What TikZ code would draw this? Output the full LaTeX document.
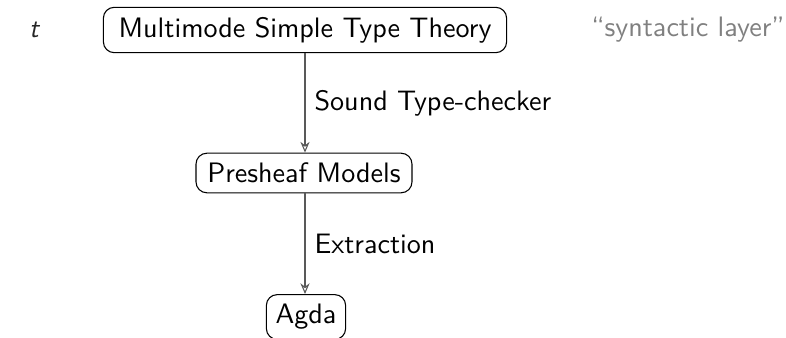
\documentclass[tikz,border=0pt]{standalone}
\usetikzlibrary{arrows.meta}
\renewcommand{\familydefault}{\sfdefault}
\begin{document}
\begin{tikzpicture}[x=0.37pt,y=-0.37pt,
  txt/.style={font=\fontsize{10.4}{12.5}\selectfont},
  layerbox/.style={txt, draw, rounded corners=4pt, inner ysep=3.6pt},
  flow/.style={draw=black!65, -{Stealth[open,length=4pt,width=3.4pt]}},
  lbl/.style={txt, anchor=west}]
  \clip (0,0) rectangle (786,338);
  \useasboundingbox (0,0) rectangle (786,338);
  \node[txt, font=\itshape, text=black!85] (t) at (34,30) {t};
  \node[layerbox, inner xsep=5.6pt] (mstt) at (305,30) {Multimode Simple Type Theory};
  \node[txt, text=black!50] (syn) at (688,30) {``syntactic layer''};
  \node[layerbox, inner xsep=4.2pt] (psh) at (304,173) {Presheaf Models};
  \node[layerbox, inner xsep=3.4pt] (agda) at (306,317) {Agda};
  \draw[flow] (mstt.south -| 305,0) -- (psh.north -| 305,0) node[midway, lbl] (l1) {Sound Type-checker};
  \draw[flow] (psh.south -| 305,0) -- (agda.north -| 305,0) node[midway, lbl] (l2) {Extraction};
\end{tikzpicture}
\end{document}
